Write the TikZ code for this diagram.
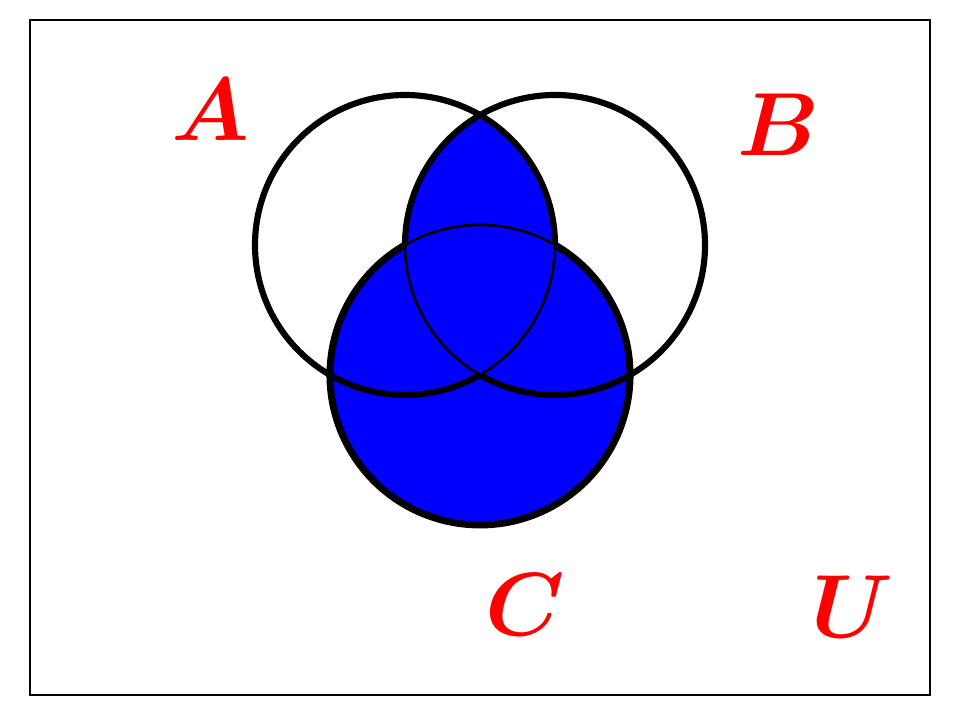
\documentclass[tikz,border=0pt]{standalone}
\usepackage{amsmath,bm}
\usepackage{tikz}
\definecolor{setred}{RGB}{255,0,0}
\definecolor{setblue}{RGB}{0,0,255}

\begin{document}
\begin{tikzpicture}[
  frame/.style={draw=black, line width=0.8pt},
  rim/.style={draw=black, line width=3.5pt},
  rimC/.style={draw=black, line width=4pt},
  seam/.style={draw=black, line width=1.5pt},
  setlabel/.style={text=setred, font=\Huge, scale=2.05, inner sep=0pt}
]
\useasboundingbox (0,0) rectangle (19.2,14.4);
\draw[frame] (0.6,0.5) rectangle (18.6,14.0);
\coordinate (A) at (8.1,9.5);
\coordinate (B) at (11.1,9.5);
\coordinate (C) at (9.6,6.902);
% shaded region: C together with the lens of A and B
\fill[setblue] (C) circle (3);
\begin{scope}
  \clip (A) circle (3);
  \fill[setblue] (B) circle (3);
\end{scope}
% thin arcs inside C
\draw[seam] (A) ++(0:3) arc (0:-60:3);
\draw[seam] (B) ++(180:3) arc (180:240:3);
\draw[seam] (C) ++(60:3) arc (60:120:3);
% thick outlines
\draw[rim] (A) ++(0:3) arc (0:300:3);
\draw[rim] (B) ++(240:3) arc (240:540:3);
\draw[rimC] (C) ++(120:3) arc (120:420:3);
\node[setlabel] (labA) at (4.2,12.2) {$\bm{A}$};
\node[setlabel] (labB) at (15.56,11.9) {$\bm{B}$};
\node[setlabel] (labC) at (10.5,2.3) {$\bm{C}$};
\node[setlabel] (labU) at (17.04,2.26) {$\bm{U}$};
\end{tikzpicture}
\end{document}
